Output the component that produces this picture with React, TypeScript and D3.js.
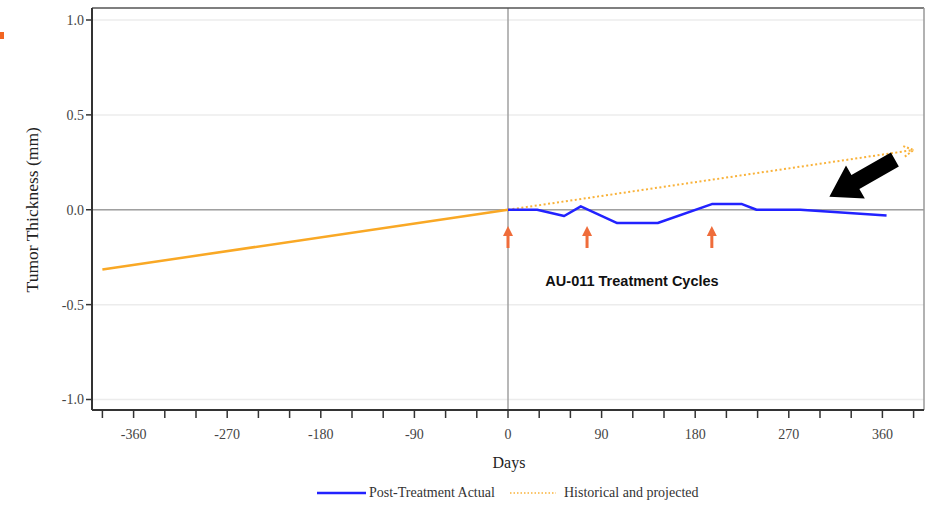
import React from "react";
import * as d3 from "d3";

// data
const actualDays = [0, 28, 54, 70, 105, 144, 196, 225, 239, 281, 364];
const actualValues = [0, 0, -0.033, 0.018, -0.07, -0.07, 0.03, 0.03, 0, 0, -0.03];
const historicalDays = [-390, 0];
const historicalValues = [-0.315, 0];
const projectedDays = [0, 390];
const projectedValues = [0, 0.315];
const treatmentDays = [0, 76, 196];
const xTickLabels = [-360, -270, -180, -90, 0, 90, 180, 270, 360];
const yTickLabels = [-1.0, -0.5, 0.0, 0.5, 1.0];

const W = 936;
const H = 505;
const serif = "'Liberation Serif', 'Times New Roman', serif";

export default function App() {
  const x = d3.scaleLinear().domain([-400, 400]).range([92, 924]);
  const y = d3.scaleLinear().domain([-1, 1]).range([399.5, 20]);
  const minorTicks = d3.range(-390, 391, 30);
  const fmt = (v: number) => v.toFixed(1);

  const ln = d3
    .line<[number, number]>()
    .x((d) => x(d[0]))
    .y((d) => y(d[1]));

  const actual = ln(actualDays.map((d, i) => [d, actualValues[i]]));
  const hist = ln(historicalDays.map((d, i) => [d, historicalValues[i]]));
  const proj = ln(projectedDays.map((d, i) => [d, projectedValues[i]]));

  // open chevron at end of projection
  const ex = x(projectedDays[1]);
  const ey = y(projectedValues[1]);
  const ang = Math.atan2(
    y(projectedValues[1]) - y(projectedValues[0]),
    x(projectedDays[1]) - x(projectedDays[0])
  );
  const hl = 11;
  const chevron = `M${ex - hl * Math.cos(ang - 0.5)},${ey - hl * Math.sin(ang - 0.5)} L${ex},${ey} L${ex - hl * Math.cos(ang + 0.5)},${ey - hl * Math.sin(ang + 0.5)}`;

  // black annotation arrow (data space)
  const tail: [number, number] = [372, 0.265];
  const tip: [number, number] = [309, 0.068];
  const tx = x(tail[0]), ty = y(tail[1]), px = x(tip[0]), py = y(tip[1]);
  const a = Math.atan2(py - ty, px - tx);
  const len = Math.hypot(px - tx, py - ty);
  const ux = Math.cos(a), uy = Math.sin(a), nx = -uy, ny = ux;
  const sw = 8, hw = 19, hlen = 30;
  const pt = (along: number, side: number) =>
    `${tx + ux * along + nx * side},${ty + uy * along + ny * side}`;
  const bigArrow = `M${pt(0, -sw)} L${pt(len - hlen, -sw)} L${pt(len - hlen, -hw)} L${pt(len, 0)} L${pt(len - hlen, hw)} L${pt(len - hlen, sw)} L${pt(0, sw)} Z`;

  const left = x.range()[0], right = x.range()[1];
  const top = 8, bottom = 410;

  return (
    <div style={{ position: "absolute", left: 0, top: 0 }}>
      <svg width={W} height={H} style={{ display: "block", background: "#fff" }}>
        <rect x={0} y={32} width={4} height={7} fill="#f26522" />

        {/* gridlines */}
        {yTickLabels.map((t) => (
          <line key={"g" + t} x1={left} x2={right} y1={y(t)} y2={y(t)} stroke="#ececec" strokeWidth={1.5} />
        ))}
        {/* reference lines */}
        <line x1={left} x2={right} y1={y(0)} y2={y(0)} stroke="#a0a0a0" strokeWidth={1.5} />
        <line x1={x(0)} x2={x(0)} y1={top} y2={bottom} stroke="#a0a0a0" strokeWidth={1.5} />

        {/* frame */}
        <line x1={left} x2={right} y1={top} y2={top} stroke="#555" strokeWidth={1.5} />
        <line x1={right} x2={right} y1={top} y2={bottom} stroke="#999" strokeWidth={1.5} />
        <line x1={left} x2={left} y1={top} y2={bottom} stroke="#333" strokeWidth={2} />
        <line x1={left} x2={right} y1={bottom} y2={bottom} stroke="#333" strokeWidth={2} />

        {/* y axis */}
        {yTickLabels.map((t) => (
          <g key={"y" + t}>
            <line x1={left - 6} x2={left} y1={y(t)} y2={y(t)} stroke="#333" strokeWidth={1.5} />
            <text x={left - 8} y={y(t)} dy="0.35em" textAnchor="end" fontFamily={serif} fontSize={14} fill="#444">
              {fmt(t)}
            </text>
          </g>
        ))}
        <text
          transform={`translate(38,${y(0)}) rotate(-90)`}
          textAnchor="middle"
          fontFamily={serif}
          fontSize={17.5}
          fill="#222"
        >
          Tumor Thickness (mm)
        </text>

        {/* x axis */}
        {minorTicks.map((t) => (
          <line key={"x" + t} x1={x(t)} x2={x(t)} y1={bottom} y2={bottom + 8} stroke="#333" strokeWidth={1.5} />
        ))}
        {xTickLabels.map((t) => (
          <text key={"xl" + t} x={x(t)} y={439} textAnchor="middle" fontFamily={serif} fontSize={14} fill="#444">
            {t}
          </text>
        ))}
        <text x={x(0) + 1} y={468} textAnchor="middle" fontFamily={serif} fontSize={16} fill="#222">
          Days
        </text>

        {/* series */}
        <path d={hist ?? ""} fill="none" stroke="#f9a825" strokeWidth={2.5} />
        <path d={proj ?? ""} fill="none" stroke="#f9b23a" strokeWidth={2} strokeDasharray="2,2.5" />
        <path d={chevron} fill="none" stroke="#f9b23a" strokeWidth={2} strokeDasharray="2,2" />
        <path d={actual ?? ""} fill="none" stroke="#2222ff" strokeWidth={2.5} strokeLinejoin="round" />

        {/* treatment arrows */}
        {treatmentDays.map((d) => {
          const cx = x(d);
          return (
            <g key={"t" + d} fill="#ef6c3a">
              <rect x={cx - 1.5} y={234} width={3} height={14} />
              <path d={`M${cx - 5},${236} L${cx},${226} L${cx + 5},${236} Z`} />
            </g>
          );
        })}
        <text x={632} y={286} textAnchor="middle" fontFamily="'Liberation Sans', Arial, sans-serif" fontWeight="bold" fontSize={14.5} fill="#111">
          AU-011 Treatment Cycles
        </text>

        <path d={bigArrow} fill="#000" />

        {/* legend */}
        <line x1={317} x2={366} y1={493} y2={493} stroke="#2222ff" strokeWidth={2.5} />
        <text x={369} y={497} fontFamily={serif} fontSize={14} fill="#333">
          Post-Treatment Actual
        </text>
        <line x1={510} x2={556} y1={493} y2={493} stroke="#f9b23a" strokeWidth={1.5} strokeDasharray="1.5,2" />
        <text x={564} y={497} fontFamily={serif} fontSize={14} fill="#333">
          Historical and projected
        </text>
      </svg>
    </div>
  );
}
